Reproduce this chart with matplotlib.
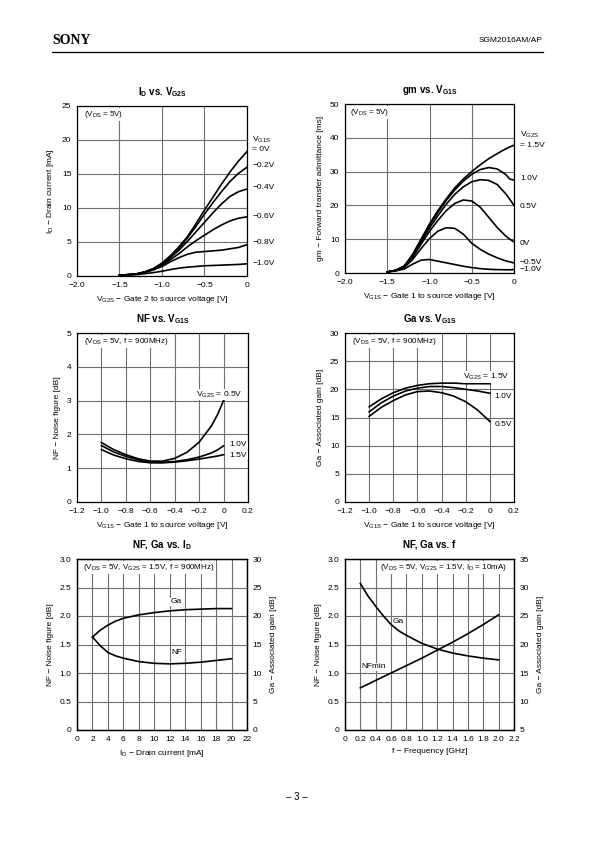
import numpy as np
import matplotlib.pyplot as plt

plt.rcParams.update({
    "font.family": ["Liberation Sans", "DejaVu Sans"],
    "font.size": 6,
    "mathtext.fontset": "custom",
    "mathtext.rm": "Liberation Sans",
    "mathtext.it": "Liberation Sans",
    "xtick.direction": "in",
    "ytick.direction": "in",
    "xtick.major.size": 0,
    "ytick.major.size": 0,
    "xtick.major.pad": 4,
    "ytick.major.pad": 4,
    "axes.linewidth": 0.9,
    "axes.unicode_minus": True,
})

# ---------- data ----------
# Id vs Vg2s
vg2s = [-1.5, -1.3, -1.2, -1.1, -1.0, -0.9, -0.8, -0.7, -0.6, -0.5, -0.4, -0.3, -0.2, -0.1, 0.0]
id_0v = [0.1, 0.3, 0.6, 1.1, 1.9, 3.0, 4.3, 5.8, 7.7, 9.7, 11.6, 13.5, 15.3, 16.9, 18.3]
id_m02 = [0.1, 0.3, 0.6, 1.1, 1.8, 2.9, 4.1, 5.6, 7.3, 9.1, 10.8, 12.4, 13.9, 15.1, 16.0]
id_m04 = [0.1, 0.3, 0.6, 1.0, 1.7, 2.7, 3.8, 5.1, 6.5, 7.9, 9.3, 10.6, 11.7, 12.4, 12.8]
id_m06 = [0.1, 0.3, 0.6, 1.0, 1.6, 2.4, 3.3, 4.3, 5.2, 6.0, 6.8, 7.5, 8.1, 8.5, 8.7]
id_m08 = [0.1, 0.3, 0.5, 0.9, 1.4, 2.1, 2.7, 3.2, 3.5, 3.6, 3.7, 3.8, 4.0, 4.2, 4.6]
id_m10 = [0.1, 0.2, 0.35, 0.5, 0.7, 0.95, 1.15, 1.3, 1.4, 1.5, 1.55, 1.6, 1.65, 1.7, 1.8]
id_curves = [id_0v, id_m02, id_m04, id_m06, id_m08, id_m10]
id_labels = [("$\\mathregular{V_{G1S}}$", 20.0), ("= 0V", 18.6), ("\u22120.2V", 16.3),
             ("\u22120.4V", 13.0), ("\u22120.6V", 8.8), ("\u22120.8V", 4.9), ("\u22121.0V", 1.9)]

# gm vs Vg1s
vg1s_gm = [-1.5, -1.4, -1.3, -1.2, -1.1, -1.0, -0.9, -0.8, -0.7, -0.6, -0.5, -0.4, -0.3, -0.2, -0.1, -0.05, 0.0]
gm_15 = [0.3, 0.8, 2.0, 5.5, 10.0, 14.5, 18.5, 22.0, 25.2, 27.8, 30.0, 32.0, 33.8, 35.3, 36.7, 37.3, 37.8]
gm_10 = [0.3, 0.8, 2.0, 5.3, 9.7, 14.0, 18.0, 21.5, 24.6, 27.2, 29.2, 30.6, 31.2, 30.8, 29.2, 27.8, 27.5]
gm_05 = [0.3, 0.8, 2.0, 5.0, 9.2, 13.3, 17.0, 20.4, 23.3, 25.5, 27.0, 27.6, 27.4, 26.2, 23.5, 21.8, 20.0]
gm_00 = [0.3, 0.8, 1.8, 4.6, 8.5, 12.3, 15.6, 18.5, 20.6, 21.6, 21.3, 19.5, 16.5, 13.5, 11.0, 10.0, 9.2]
gm_m05 = [0.3, 0.7, 1.6, 4.0, 7.2, 10.2, 12.4, 13.4, 13.2, 11.5, 8.8, 7.0, 5.6, 4.5, 3.6, 3.3, 3.0]
gm_m10 = [0.3, 0.6, 1.2, 2.6, 3.8, 4.0, 3.5, 3.0, 2.5, 2.0, 1.6, 1.3, 1.1, 1.0, 0.95, 0.95, 1.0]
gm_curves = [gm_15, gm_10, gm_05, gm_00, gm_m05, gm_m10]
gm_labels = [("$\\mathregular{V_{G2S}}$", 40.9), ("= 1.5V", 37.8), ("1.0V", 27.9), ("0.5V", 19.7),
             ("0V", 8.7), ("\u22120.5V", 3.2), ("\u22121.0V", 0.9)]

# NF vs Vg1s
vg1s_nf = [-1.0, -0.9, -0.8, -0.7, -0.6, -0.5, -0.4, -0.3, -0.2, -0.1, -0.05, 0.0]
nf_05 = [1.76, 1.55, 1.40, 1.28, 1.21, 1.21, 1.29, 1.47, 1.77, 2.25, 2.58, 3.0]
nf_10 = [1.67, 1.48, 1.35, 1.25, 1.18, 1.17, 1.20, 1.25, 1.33, 1.45, 1.54, 1.66]
nf_15 = [1.55, 1.39, 1.28, 1.20, 1.16, 1.16, 1.18, 1.22, 1.27, 1.33, 1.36, 1.40]

# Ga vs Vg1s
vg1s_ga = [-1.0, -0.9, -0.8, -0.7, -0.6, -0.5, -0.4, -0.3, -0.2, -0.1, 0.0]
ga_15 = [16.9, 18.3, 19.4, 20.2, 20.7, 21.0, 21.1, 21.1, 21.0, 21.0, 21.0]
ga_10 = [16.0, 17.6, 18.8, 19.7, 20.2, 20.5, 20.5, 20.3, 20.0, 19.7, 19.3]
ga_05 = [15.2, 16.8, 18.0, 19.0, 19.6, 19.7, 19.4, 18.8, 17.8, 16.3, 14.3]

# NF, Ga vs Id
id_ma = [2, 3, 4, 5, 6, 8, 10, 12, 14, 16, 18, 20]
nf_id = [1.63, 1.48, 1.36, 1.30, 1.26, 1.20, 1.17, 1.16, 1.17, 1.19, 1.22, 1.25]
ga_id = [16.3, 17.5, 18.4, 19.1, 19.6, 20.2, 20.6, 20.9, 21.1, 21.2, 21.3, 21.3]

# NF, Ga vs f
freq = [0.2, 0.3, 0.4, 0.5, 0.6, 0.7, 0.8, 1.0, 1.2, 1.4, 1.6, 1.8, 2.0]
ga_f = [30.7, 28.5, 26.7, 25.0, 23.5, 22.4, 21.6, 20.2, 19.2, 18.5, 18.0, 17.6, 17.3]
nf_f = [0.74, 0.805, 0.87, 0.935, 1.0, 1.065, 1.13, 1.26, 1.40, 1.54, 1.69, 1.85, 2.02]

GRID = "#6e6e6e"
W, H = 595, 842


def rect(x0, y0, x1, y1):
    return [x0 / W, 1 - y1 / H, (x1 - x0) / W, (y1 - y0) / H]


def style(ax, xlim, ylim, xt, yt, xfmt, yfmt):
    ax.set_xlim(*xlim)
    ax.set_ylim(*ylim)
    ax.set_xticks(xt)
    ax.set_yticks(yt)
    ax.set_xticklabels([xfmt(v) for v in xt])
    ax.set_yticklabels([yfmt(v) for v in yt])
    ax.grid(True, color=GRID, lw=0.8)
    ax.set_axisbelow(True)


def fmt1(v):
    return "0" if abs(v) < 1e-9 else f"{v:.1f}".replace("-", "\u2212")


def fmt0(v):
    return f"{v:g}"


def note(ax, x, y, s, ha="left"):
    ax.text(x, y, s, transform=ax.transAxes, ha=ha, va="center", fontsize=5.8,
            bbox=dict(fc="white", ec="none", pad=0.6), zorder=5)


fig = plt.figure(figsize=(5.95, 8.42), dpi=100)

# header / footer
fig.text(52 / W, 1 - 40 / H, "SONY", fontsize=10, fontweight="bold",
         family=["Liberation Serif", "DejaVu Serif"], va="center")
fig.text(543 / W, 1 - 40 / H, "SGM2016AM/AP", fontsize=6, ha="right", va="center")
fig.add_artist(plt.Line2D([52 / W, 543 / W], [1 - 52 / H, 1 - 52 / H], color="black", lw=0.9))
fig.text(297 / W, 1 - 797 / H, "\u2013 3 \u2013", fontsize=7, ha="center", va="center")

lw = 1.2
title_kw = dict(fontsize=7, fontweight="bold", pad=8)

# 1: Id vs Vg2s
ax1 = fig.add_axes(rect(77, 106, 247, 276))
style(ax1, (-2, 0), (0, 25), [-2, -1.5, -1, -0.5, 0], range(0, 26, 5), fmt1, fmt0)
for c in id_curves:
    ax1.plot(vg2s, c, color="black", lw=lw)
for s, y in id_labels:
    ax1.text(0.06, y, s, fontsize=6, va="center", ha="left", clip_on=False)
ax1.set_title("$\\mathregular{I_D}$ vs. $\\mathregular{V_{G2S}}$", **title_kw)
ax1.set_xlabel("$\\mathregular{V_{G2S}}$ \u2212 Gate 2 to source voltage [V]", labelpad=4)
ax1.set_ylabel("$\\mathregular{I_D}$ \u2212 Drain current [mA]", labelpad=4)
note(ax1, 0.04, 0.95, "($\\mathregular{V_{DS}}$ = 5V)")

# 2: gm vs Vg1s
ax2 = fig.add_axes(rect(345, 104, 514, 273))
style(ax2, (-2, 0), (0, 50), [-2, -1.5, -1, -0.5, 0], range(0, 51, 10), fmt1, fmt0)
for c in gm_curves:
    ax2.plot(vg1s_gm, c, color="black", lw=lw)
for s, y in gm_labels:
    ax2.text(0.07, y, s, fontsize=6, va="center", ha="left", clip_on=False)
ax2.set_title("gm vs. $\\mathregular{V_{G1S}}$", **title_kw)
ax2.set_xlabel("$\\mathregular{V_{G1S}}$ \u2212 Gate 1 to source voltage [V]", labelpad=4)
ax2.set_ylabel("gm \u2212 Forward transfer admittance [ms]", labelpad=4)
note(ax2, 0.03, 0.95, "($\\mathregular{V_{DS}}$ = 5V)")

# 3: NF vs Vg1s
ax3 = fig.add_axes(rect(77, 333, 248, 502))
xt = [-1.2, -1.0, -0.8, -0.6, -0.4, -0.2, 0, 0.2]
style(ax3, (-1.2, 0.2), (0, 5), xt, range(0, 6), fmt1, fmt0)
for c in (nf_05, nf_10, nf_15):
    ax3.plot(vg1s_nf, c, color="black", lw=lw)
ax3.text(0.155, 3.18, "$\\mathregular{V_{G2S}}$ = 0.5V", fontsize=6, ha="right", va="center",
         bbox=dict(fc="white", ec="none", pad=0.5))
ax3.text(0.05, 1.69, "1.0V", fontsize=6, ha="left", va="center",
         bbox=dict(fc="white", ec="none", pad=0.3))
ax3.text(0.05, 1.39, "1.5V", fontsize=6, ha="left", va="center",
         bbox=dict(fc="white", ec="none", pad=0.3))
ax3.set_title("NF vs. $\\mathregular{V_{G1S}}$", **title_kw)
ax3.set_xlabel("$\\mathregular{V_{G1S}}$ \u2212 Gate 1 to source voltage [V]", labelpad=4)
ax3.set_ylabel("NF \u2212 Noise figure [dB]", labelpad=4)
note(ax3, 0.04, 0.95, "($\\mathregular{V_{DS}}$ = 5V, f = 900MHz)")

# 4: Ga vs Vg1s
ax4 = fig.add_axes(rect(345, 333, 514, 502))
style(ax4, (-1.2, 0.2), (0, 30), xt, range(0, 31, 5), fmt1, fmt0)
for c in (ga_15, ga_10, ga_05):
    ax4.plot(vg1s_ga, c, color="black", lw=lw)
ax4.text(0.16, 22.2, "$\\mathregular{V_{G2S}}$ = 1.5V", fontsize=6, ha="right", va="center",
         bbox=dict(fc="white", ec="none", pad=0.5))
ax4.text(0.04, 18.8, "1.0V", fontsize=6, ha="left", va="center",
         bbox=dict(fc="white", ec="none", pad=0.3))
ax4.text(0.04, 13.8, "0.5V", fontsize=6, ha="left", va="center",
         bbox=dict(fc="white", ec="none", pad=0.3))
ax4.set_title("Ga vs. $\\mathregular{V_{G1S}}$", **title_kw)
ax4.set_xlabel("$\\mathregular{V_{G1S}}$ \u2212 Gate 1 to source voltage [V]", labelpad=4)
ax4.set_ylabel("Ga \u2212 Associated gain [dB]", labelpad=4)
note(ax4, 0.04, 0.95, "($\\mathregular{V_{DS}}$ = 5V, f = 900MHz)")

# 5: NF, Ga vs Id
ax5 = fig.add_axes(rect(77, 559, 247, 730))
style(ax5, (0, 22), (0, 3), range(0, 23, 2), [0, 0.5, 1, 1.5, 2, 2.5, 3],
      fmt0, lambda v: "0" if v == 0 else f"{v:.1f}")
ax5.plot(id_ma, nf_id, color="black", lw=lw)
ax5b = ax5.twinx()
ax5b.set_ylim(0, 30)
ax5b.set_yticks(range(0, 31, 5))
ax5b.tick_params(length=0, pad=4)
ax5b.plot(id_ma, ga_id, color="black", lw=lw)
ax5.text(12.9, 2.25, "Ga", fontsize=6, ha="center", va="center",
         bbox=dict(fc="white", ec="none", pad=0.5))
ax5.text(12.9, 1.36, "NF", fontsize=6, ha="center", va="center",
         bbox=dict(fc="white", ec="none", pad=0.5))
ax5.set_title("NF, Ga vs. $\\mathregular{I_D}$", **title_kw)
ax5.set_xlabel("$\\mathregular{I_D}$ \u2212 Drain current [mA]", labelpad=4)
ax5.set_ylabel("NF \u2212 Noise figure [dB]", labelpad=4)
ax5b.set_ylabel("Ga \u2212 Associated gain [dB]", labelpad=6)
note(ax5, 0.035, 0.95,
     "($\\mathregular{V_{DS}}$ = 5V, $\\mathregular{V_{G2S}}$ = 1.5V, f = 900MHz)")

# 6: NF, Ga vs f
ax6 = fig.add_axes(rect(345, 559, 514, 730))
ft = [0, 0.2, 0.4, 0.6, 0.8, 1.0, 1.2, 1.4, 1.6, 1.8, 2.0, 2.2]
style(ax6, (0, 2.2), (0, 3), ft, [0, 0.5, 1, 1.5, 2, 2.5, 3],
      lambda v: "0" if v == 0 else f"{v:.1f}", lambda v: "0" if v == 0 else f"{v:.1f}")
ax6.plot(freq, nf_f, color="black", lw=lw)
ax6b = ax6.twinx()
ax6b.set_ylim(5, 35)
ax6b.set_yticks(range(5, 36, 5))
ax6b.tick_params(length=0, pad=4)
ax6b.plot(freq, ga_f, color="black", lw=lw)
ax6.text(0.69, 1.90, "Ga", fontsize=6, ha="center", va="center",
         bbox=dict(fc="white", ec="none", pad=0.5))
ax6.text(0.37, 1.11, "NFmin", fontsize=6, ha="center", va="center",
         bbox=dict(fc="white", ec="none", pad=0.5))
ax6.set_title("NF, Ga vs. f", **title_kw)
ax6.set_xlabel("f \u2212 Frequency [GHz]", labelpad=4)
ax6.set_ylabel("NF \u2212 Noise figure [dB]", labelpad=4)
ax6b.set_ylabel("Ga \u2212 Associated gain [dB]", labelpad=6)
note(ax6, 0.96, 0.95,
     "($\\mathregular{V_{DS}}$ = 5V, $\\mathregular{V_{G2S}}$ = 1.5V, $\\mathregular{I_D}$ = 10mA)",
     ha="right")

fig.savefig("out.png", dpi=100)
